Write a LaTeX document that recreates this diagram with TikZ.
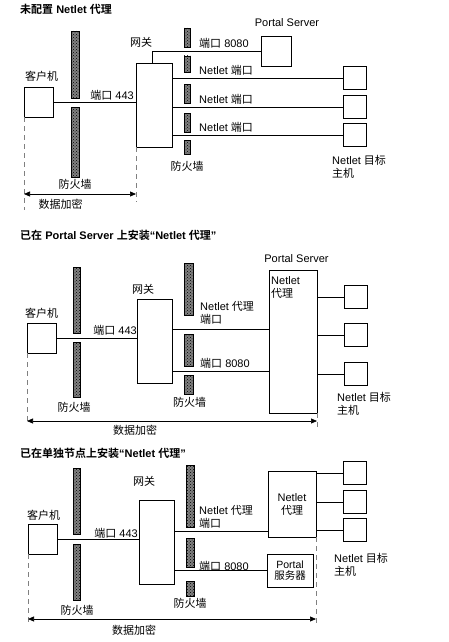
\documentclass[tikz,border=0pt]{standalone}
\usepackage{fontspec}
\setmainfont{Liberation Sans}
\newfontfamily\cjk{Noto Sans CJK SC}[BoldFont={Noto Sans CJK SC Bold}]
\newcommand{\zh}[1]{{\cjk #1}}
\usetikzlibrary{arrows.meta,patterns}

\begin{document}
\begin{tikzpicture}[
    x=1pt, y=-1pt,
    every node/.style={font=\fontsize{11pt}{13pt}\selectfont, inner sep=0pt},
    box/.style={draw, line width=0.7pt, minimum width=29pt, minimum height=30pt, outer sep=0pt},
    tgt/.style={box, minimum width=23pt, minimum height=23pt},
    fw/.style={draw, line width=0.6pt, preaction={fill=black!50}, pattern=crosshatch dots, pattern color=black},
    link/.style={line width=0.7pt},
    dashline/.style={gray, line width=0.9pt, dash pattern=on 5pt off 4pt},
    arr/.style={{Triangle[length=6pt,width=5pt]}-{Triangle[length=6pt,width=5pt]}, line width=0.7pt},
    title/.style={anchor=west, font=\fontsize{11pt}{13pt}\selectfont\bfseries}
  ]
  \useasboundingbox (0,0) rectangle (449,642);

  % ---- 1: no Netlet proxy
  \node[title] (hd1) at (20,9) {\zh{未配置} Netlet \zh{代理}};
  \node[box] (client1) at (38.5,102) {};
  \node[anchor=west] (cl1) at (25,76) {\zh{客户机}};
  \node[box, minimum width=36pt, minimum height=84pt] (gw1) at (154,105) {};
  \node[anchor=west] (gwl1) at (130,42) {\zh{网关}};
  \node[box, minimum width=30pt] (ps1) at (276,51) {};
  \node (psl1) at (287,23) {Portal Server};
  \node[tgt] (t11) at (354.5,78) {};
  \node[tgt] (t12) at (354.5,107) {};
  \node[tgt] (t13) at (354.5,135) {};
  \foreach \ya/\yb in {31/98,107/177} \path[fw] (71,\ya) rectangle (79,\yb);
  \foreach \ya/\yb in {28/47,56/72,84/103,113/132,140/154} \path[fw] (184,\ya) rectangle (190,\yb);
  \node (fwl1) at (75,184) {\zh{防火墙}};
  \node (fwr1) at (187,166) {\zh{防火墙}};
  \node[anchor=east] (p443a) at (134,95) {\zh{端口} 443};
  \node[anchor=west] (p8080a) at (199,43) {\zh{端口} 8080};
  \node[anchor=west] (np11) at (199,70) {Netlet \zh{端口}};
  \node[anchor=west] (np12) at (199,99) {Netlet \zh{端口}};
  \node[anchor=west] (np13) at (199,127) {Netlet \zh{端口}};
  \node[anchor=west, align=left] (tl1) at (332,166.5) {Netlet \zh{目标}\\\zh{主机}};
  \draw[link] (client1.east) -- (client1.east -| gw1.west);
  \draw[link] ([xshift=-2pt]gw1.north) |- (ps1.west);
  \draw[link] (gw1.east |- t11) -- (t11.west);
  \draw[link] (gw1.east |- t12) -- (t12.west);
  \draw[link] (gw1.east |- t13) -- (t13.west);
  \coordinate (e1l) at (24,194);
  \coordinate (e1r) at (136,194);
  \draw[dashline] (client1.south west) -- (24,210);
  \draw[dashline] (gw1.south west) -- (136,202);
  \draw[arr] (e1l) -- (e1r);
  \node (enc1) at (60.5,204) {\zh{数据加密}};

  % ---- 2: proxy on Portal Server
  \node[title] (hd2) at (20,235) {\zh{已在} Portal Server \zh{上安装}“Netlet \zh{代理}”};
  \node[box] (client2) at (41.5,338) {};
  \node[anchor=west] (cl2) at (25,313) {\zh{客户机}};
  \node[box, minimum width=35pt, minimum height=84pt] (gw2) at (154.5,341) {};
  \node[anchor=west] (gwl2) at (132,289) {\zh{网关}};
  \node[box, minimum width=48pt, minimum height=143pt] (ps2) at (293,341.5) {};
  \node (psl2) at (296.5,259) {Portal Server};
  \node[anchor=north west, align=left] (nap2) at (271,276) {Netlet\\\zh{代理}};
  \node[tgt] (t21) at (355.5,297) {};
  \node[tgt] (t22) at (355.5,335) {};
  \node[tgt] (t23) at (355.5,374) {};
  \foreach \ya/\yb in {267/333,342/397} \path[fw] (73,\ya) rectangle (80,\yb);
  \foreach \ya/\yb in {263/315,334/366,375/394} \path[fw] (184,\ya) rectangle (193,\yb);
  \node (fwl2) at (74,407) {\zh{防火墙}};
  \node (fwr2) at (189.5,402) {\zh{防火墙}};
  \node[anchor=east] (p443b) at (137,330) {\zh{端口} 443};
  \node[anchor=west, align=left] (npp2) at (200,313) {Netlet \zh{代理}\\\zh{端口}};
  \node[anchor=west] (p8080b) at (200,363) {\zh{端口} 8080};
  \node[anchor=west, align=left] (tl2) at (337,404) {Netlet \zh{目标}\\\zh{主机}};
  \draw[link] (client2.east) -- (client2.east -| gw2.west);
  \draw[link] ([yshift=12pt]gw2.east) -- ([yshift=12pt]gw2.east -| ps2.west);
  \draw[link] ([yshift=-30pt]gw2.east) -- ([yshift=-30pt]gw2.east -| ps2.west);
  \draw[link] (ps2.east |- t21) -- (t21.west);
  \draw[link] (ps2.east |- t22) -- (t22.west);
  \draw[link] (ps2.east |- t23) -- (t23.west);
  \coordinate (e2l) at (27,421);
  \coordinate (e2r) at (317,421);
  \draw[dashline] (client2.south west) -- (27,423);
  \draw[dashline] (ps2.south east) -- (317,428);
  \draw[arr] (e2l) -- (e2r);
  \node (enc2) at (135,430) {\zh{数据加密}};

  % ---- 3: proxy on a separate node
  \node[title] (hd3) at (20,453) {\zh{已在单独节点上安装}“Netlet \zh{代理}”};
  \node[box] (client3) at (42.5,539) {};
  \node[anchor=west] (cl3) at (27,515) {\zh{客户机}};
  \node[box, minimum width=35pt, minimum height=84pt] (gw3) at (156.5,542) {};
  \node[anchor=west] (gwl3) at (133,481) {\zh{网关}};
  \node[box, minimum width=48pt, minimum height=66pt, align=center] (np3) at (292,504) {Netlet\\\zh{代理}};
  \node[box, minimum width=46pt, minimum height=33pt, align=center, font=\fontsize{10.5pt}{11pt}\selectfont] (psv3) at (290,570.5) {Portal\\\zh{服务器}};
  \node[tgt] (t31) at (355,473) {};
  \node[tgt] (t32) at (355,502) {};
  \node[tgt] (t33) at (355,530) {};
  \foreach \ya/\yb in {468/534,544/600} \path[fw] (73,\ya) rectangle (80,\yb);
  \foreach \ya/\yb in {465/527,538/567,581/596} \path[fw] (186,\ya) rectangle (194,\yb);
  \node (fwl3) at (77,610) {\zh{防火墙}};
  \node (fwr3) at (190,603) {\zh{防火墙}};
  \node[anchor=east] (p443c) at (138,533) {\zh{端口} 443};
  \node[anchor=west, align=left] (npp3) at (199,517) {Netlet \zh{代理}\\\zh{端口}};
  \node[anchor=west] (p8080c) at (199,566) {\zh{端口} 8080};
  \node[anchor=west, align=left] (tl3) at (334,565) {Netlet \zh{目标}\\\zh{主机}};
  \draw[link] (client3.east) -- (client3.east -| gw3.west);
  \draw[link] ([yshift=11pt]gw3.east) -- ([yshift=11pt]gw3.east -| np3.west);
  \draw[link] (psv3.west -| gw3.east) -- (psv3.west);
  \draw[link] (np3.east |- t31) -- (t31.west);
  \draw[link] (np3.east |- t32) -- (t32.west);
  \draw[link] (np3.east |- t33) -- (t33.west);
  \coordinate (e3l) at (28,619);
  \coordinate (e3r) at (316,619);
  \draw[dashline] (client3.south west) -- (28,622);
  \draw[dashline] (np3.south east) -- (316,624);
  \draw[arr] (e3l) -- (e3r);
  \node (enc3) at (134,630) {\zh{数据加密}};
\end{tikzpicture}
\end{document}
